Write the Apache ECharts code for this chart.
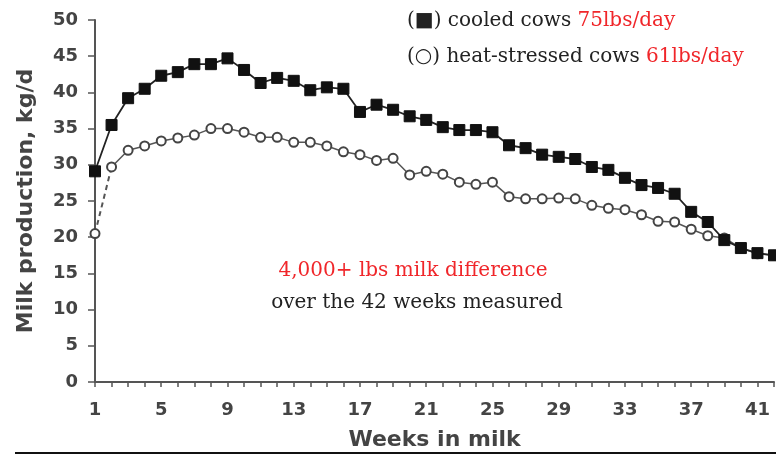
<!DOCTYPE html>
<html><head><meta charset="utf-8">
<script src="https://cdn.jsdelivr.net/npm/echarts@6/dist/echarts.min.js"></script>
<style>html,body{margin:0;padding:0;background:#fff}#c{width:776px;height:455px}</style>
</head><body><div id="c"></div>
<script>
const weeks = Array.from({length:42},(_,i)=>i+1);
const cooled = [29.1,35.5,39.2,40.5,42.3,42.8,43.9,43.9,44.7,43.1,41.3,42.0,41.6,40.3,40.7,40.5,37.3,38.3,37.6,36.7,36.2,35.2,34.8,34.8,34.5,32.7,32.3,31.4,31.1,30.8,29.7,29.3,28.2,27.2,26.8,26.0,23.5,22.1,19.6,18.5,17.8,17.5];
const heatStressed = [20.5,29.7,32.0,32.6,33.3,33.7,34.1,35.0,35.0,34.5,33.8,33.8,33.1,33.1,32.6,31.8,31.4,30.6,30.9,28.6,29.1,28.7,27.6,27.3,27.6,25.6,25.3,25.3,25.4,25.3,24.4,24.0,23.8,23.1,22.2,22.1,21.1,20.2,19.9,18.5,17.7,17.5];
const xTicks = {min:1,max:42,interval:1,labelEvery:4};
const yTicks = {min:0,max:50,interval:5};

const cooledPts = weeks.map((w,i)=>[w, cooled[i]]);
const heatFirst = [[weeks[0], heatStressed[0]], {value:[weeks[1], heatStressed[1]], symbol:'none'}];
const heatRest = weeks.slice(1).map((w,i)=>[w, heatStressed[i+1]]);

const chart = echarts.init(document.getElementById('c'));
const axisFont = {fontFamily:'DejaVu Sans', fontWeight:'bold', fontSize:18, color:'#444'};
const serif = 'DejaVu Serif';
chart.setOption({
  animation:false,
  grid:{left:95,right:2,top:20,bottom:73, containLabel:false, outerBoundsMode:'none'},
  xAxis:{
    type:'value', min:xTicks.min, max:xTicks.max, interval:xTicks.interval,
    name:'Weeks in milk', nameLocation:'middle', nameGap:47,
    nameTextStyle:{fontFamily:'DejaVu Sans', fontWeight:'bold', fontSize:22, color:'#444'},
    axisLine:{lineStyle:{color:'#555',width:2}},
    axisTick:{show:true, length:5, lineStyle:{color:'#555',width:1.5}},
    axisLabel:Object.assign({margin:19, hideOverlap:false,
      formatter:(v)=> ((v - xTicks.min) % xTicks.labelEvery === 0) ? String(v) : ''}, axisFont),
    splitLine:{show:false}
  },
  yAxis:{
    type:'value', min:yTicks.min, max:yTicks.max, interval:yTicks.interval,
    name:'Milk production, kg/d', nameLocation:'middle', nameGap:58, nameRotate:90,
    nameTextStyle:{fontFamily:'DejaVu Sans', fontWeight:'bold', fontSize:22, color:'#444'},
    axisLine:{show:true, lineStyle:{color:'#555',width:2}},
    axisTick:{show:true, length:7, lineStyle:{color:'#555',width:1.5}},
    axisLabel:Object.assign({margin:17}, axisFont),
    splitLine:{show:false}
  },
  series:[
    {type:'line', data:heatFirst, symbol:'circle', symbolSize:9, showAllSymbol:true,
     itemStyle:{color:'#fff', borderColor:'#444', borderWidth:2},
     lineStyle:{color:'#555', width:2, type:[5,4]}, z:2},
    {type:'line', data:heatRest, symbol:'circle', symbolSize:9, showAllSymbol:true,
     itemStyle:{color:'#fff', borderColor:'#444', borderWidth:2},
     lineStyle:{color:'#555', width:1.5}, z:2},
    {type:'line', data:cooledPts, symbol:'rect', symbolSize:11, showAllSymbol:true,
     itemStyle:{color:'#111', borderColor:'#111'},
     lineStyle:{color:'#222', width:1.8}, z:3}
  ],
  graphic:[
    {type:'text', x:407, y:21, style:{
      text:'(■) cooled cows {r|75lbs/day}', verticalAlign:'middle',
      rich:{r:{fill:'#f0262a', fontFamily:serif, fontSize:20}},
      fill:'#222', fontFamily:serif, fontSize:20}},
    {type:'text', x:407, y:57, style:{
      text:'(○) heat-stressed cows {r|61lbs/day}', verticalAlign:'middle',
      rich:{r:{fill:'#f0262a', fontFamily:serif, fontSize:20}},
      fill:'#222', fontFamily:serif, fontSize:20}},
    {type:'text', x:413, y:271, style:{text:'4,000+ lbs milk difference', fill:'#f0262a',
      fontFamily:serif, fontSize:20, align:'center', verticalAlign:'middle'}},
    {type:'text', x:417, y:303, style:{text:'over the 42 weeks measured', fill:'#222',
      fontFamily:serif, fontSize:20, align:'center', verticalAlign:'middle'}},
    {type:'rect', shape:{x:15, y:452, width:761, height:2}, style:{fill:'#111'}}
  ]
});
</script></body></html>
